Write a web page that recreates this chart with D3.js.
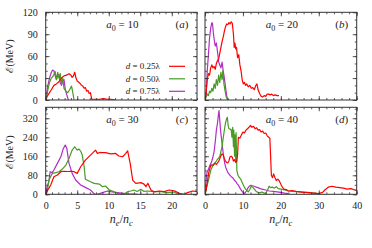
<!DOCTYPE html>
<html>
<head>
<meta charset="utf-8">
<script src="https://cdn.jsdelivr.net/npm/d3@7"></script>
<style>
  body { margin: 0; background: #fff; }
  text { font-family: "Liberation Serif", serif; fill: #222; }
</style>
</head>
<body>
<svg id="chart" width="372" height="248"></svg>
<script>
// Series: [n_e/n_c, energy in MeV]
var a10_d025 = [[0,0],[0.3,6],[0.6,10],[0.9,14],[1.3,20],[1.7,22],[2.1,25],[2.5,30],[2.9,33],[3.3,34],[3.7,36],[4.0,34],[4.2,31],[4.4,33],[4.6,38],[4.8,30],[5.0,26],[5.3,24],[5.6,21],[5.9,19],[6.1,16],[6.3,17],[6.5,12],[6.7,13],[6.9,9],[7.1,10],[7.3,1],[7.8,1],[8.5,1],[9.2,2],[9.8,1],[10.4,1],[11.0,0]];
var a10_d050 = [[0,0],[0.3,12],[0.6,24],[0.9,30],[1.2,33],[1.5,39],[1.7,28],[1.9,38],[2.1,30],[2.3,36],[2.5,22],[2.7,30],[2.9,16],[3.2,12],[3.5,10],[3.8,14],[4.1,19],[4.3,10],[4.5,0]];
var a10_d075 = [[0,0],[0.3,18],[0.6,30],[0.9,38],[1.1,41],[1.3,40],[1.5,33],[1.7,28],[1.9,33],[2.1,35],[2.3,24],[2.5,20],[2.7,26],[2.9,28],[3.1,15],[3.3,8],[3.6,0]];

var a20_d025 = [[0,0],[0.3,10],[0.6,28],[0.9,36],[1.2,34],[1.5,44],[1.8,48],[2.1,44],[2.4,46],[2.7,42],[3.0,50],[3.3,54],[3.6,56],[3.9,64],[4.2,72],[4.5,80],[4.8,86],[5.1,94],[5.4,100],[5.7,104],[6.0,103],[6.3,106],[6.6,104],[6.9,107],[7.2,105],[7.5,90],[7.7,72],[7.9,78],[8.1,70],[8.3,72],[8.6,58],[8.9,62],[9.2,48],[9.5,40],[9.8,28],[10.1,22],[10.4,24],[10.7,20],[11.0,22],[11.4,18],[11.8,20],[12.2,16],[12.6,17],[13.0,14],[13.4,20],[13.7,22],[14.0,14],[14.4,9],[14.8,5],[15.2,4],[15.6,6],[16.0,5],[16.4,8],[16.8,8],[17.2,7],[17.6,8],[18.0,6],[18.5,7],[19.0,6],[19.5,6]];
var a20_d050 = [[0,0],[0.3,4],[0.6,8],[0.9,6],[1.2,12],[1.5,10],[1.8,16],[2.1,12],[2.4,22],[2.7,16],[3.0,28],[3.3,20],[3.6,34],[3.9,24],[4.2,38],[4.5,28],[4.7,40],[5.0,22],[5.3,12],[5.6,4],[6.0,0]];
var a20_d075 = [[0,0],[0.3,8],[0.6,40],[0.9,62],[1.2,85],[1.5,98],[1.8,106],[2.0,104],[2.2,92],[2.5,80],[2.7,74],[3.0,78],[3.3,66],[3.6,52],[3.9,48],[4.2,44],[4.5,52],[4.8,40],[5.1,30],[5.4,18],[5.7,6],[6.0,0]];

var a30_d025 = [[0,0],[0.15,11],[0.5,25],[0.8,39],[1.3,74],[1.85,81],[2.4,95],[2.9,97],[3.5,96],[4.0,97],[4.5,95],[5.0,88],[5.55,116],[6.3,144],[7.1,165],[7.9,186],[8.2,172],[8.6,176],[9.0,175],[9.5,175],[10.3,170],[11.1,172],[11.6,161],[12.2,158],[12.7,172],[13.0,183],[13.4,130],[13.8,60],[14.3,46],[15.1,49],[15.6,43],[15.9,32],[16.2,46],[16.7,18],[17.2,10],[18.0,14],[18.8,11],[19.6,18],[20.4,15],[21.2,4],[22.0,0],[22.5,7],[23.3,14],[24,11]];
var a30_d050 = [[0,0],[0.26,11],[0.5,60],[1.05,88],[1.6,91],[2.1,95],[2.6,105],[3.2,123],[3.7,151],[4.2,186],[4.6,200],[5.0,186],[5.3,190],[5.6,179],[5.8,165],[6.1,116],[6.3,63],[7.1,53],[7.7,46],[8.5,43],[9.0,32],[9.5,35],[10.1,18],[10.8,11],[11.6,2],[12.4,0],[13.0,11],[13.5,14],[14.0,18],[14.5,12],[15.1,21],[15.6,12],[16.1,14],[17.2,11],[18.3,11],[19.3,7],[20.4,10],[20.9,2],[21.4,0]];
var a30_d075 = [[0,0],[0.15,25],[0.5,53],[0.7,95],[1.05,91],[1.3,102],[1.85,130],[2.4,158],[2.8,193],[3.1,207],[3.35,193],[3.7,130],[4.2,88],[4.75,60],[5.55,39],[6.3,29],[7.1,18],[7.7,2],[8.2,0],[9.0,7],[9.8,14],[10.3,11],[11.4,7],[13.0,2],[14.6,0]];

var a40_d025 = [[0,0],[0.3,20],[0.6,50],[0.9,85],[1.2,105],[1.5,120],[1.8,124],[2.1,122],[2.4,128],[2.7,130],[3.0,126],[3.3,132],[3.6,138],[3.9,150],[4.2,162],[4.5,170],[4.8,166],[5.1,150],[5.4,140],[5.7,134],[6.0,132],[6.3,140],[6.6,158],[6.9,160],[7.2,156],[7.5,140],[7.8,146],[8.1,134],[8.4,140],[8.6,170],[8.8,240],[9.2,236],[9.6,250],[10.0,262],[10.4,258],[10.8,270],[11.2,276],[11.6,282],[12.0,290],[12.4,282],[12.8,286],[13.2,276],[13.6,280],[14.0,270],[14.4,272],[14.8,262],[15.2,266],[15.6,256],[16.0,258],[16.4,246],[16.8,240],[17.1,236],[17.3,160],[17.5,80],[17.8,70],[18.1,86],[18.4,72],[18.8,58],[19.2,64],[19.6,56],[20.0,42],[20.4,30],[20.8,22],[21.4,20],[22,14],[23,16],[24,12],[25,10],[26,8],[27,8],[28,6],[29,5],[30,3],[31,8],[31.6,18],[32.5,30],[33.5,34],[34.5,30],[35.5,28],[36.5,26],[37.5,22],[38.5,24],[39.5,18],[40,16]];
var a40_d050 = [[0,0],[0.3,20],[0.6,40],[0.9,58],[1.2,80],[1.5,100],[1.8,112],[2.1,120],[2.4,128],[2.7,134],[3.0,140],[3.3,148],[3.6,152],[3.9,160],[4.2,180],[4.5,200],[4.8,236],[5.1,270],[5.4,300],[5.7,318],[5.9,324],[6.1,290],[6.3,276],[6.6,274],[6.9,272],[7.1,240],[7.3,282],[7.5,200],[7.6,270],[7.8,160],[7.9,250],[8.1,140],[8.2,260],[8.4,100],[8.7,80],[9.0,72],[9.4,64],[9.8,50],[10.2,36],[10.6,24],[11.0,16],[11.4,10],[11.8,20],[12.2,34],[12.6,30],[13.0,22],[13.5,12],[14.0,8],[14.5,6],[15.0,10],[15.5,6],[16.0,4],[16.5,18],[16.9,34],[17.3,28],[17.8,30],[18.3,26],[18.8,32],[19.3,24],[20,22],[21,18],[22,14],[23,12],[24,11],[25,10],[26,9],[27,7],[28,6],[29,5],[30,0]];
var a40_d075 = [[0,0],[0.2,40],[0.4,80],[0.6,95],[0.9,105],[1.2,118],[1.5,128],[1.8,140],[2.1,158],[2.4,180],[2.7,220],[3.0,270],[3.3,300],[3.5,330],[3.7,352],[3.9,310],[4.1,270],[4.3,240],[4.6,200],[4.9,160],[5.2,130],[5.5,112],[5.8,100],[6.1,90],[6.5,82],[6.9,74],[7.3,70],[7.7,60],[8.1,54],[8.5,44],[8.9,36],[9.3,24],[9.7,14],[10.1,6],[10.5,4],[10.9,14],[11.3,26],[11.7,34],[12.1,38],[12.5,36],[13.0,34],[13.5,30],[14.0,28],[14.5,24],[15.0,22],[16,18],[17,14],[18,12],[19,10],[20,8],[21,5],[22,3]];

var legendLabels = ["0.25", "0.50", "0.75"];
var colors = ["#ff0000", "#4a9a26", "#b32cc4"];
var xTicksLeft = [0, 5, 10, 15, 20];
var xTicksRight = [0, 10, 20, 30, 40];
var yTicksTop = [0, 30, 60, 90, 120];
var yTicksBottom = [0, 80, 160, 240, 320];

var svg = d3.select("#chart");

var panels = [
    { tag: "a", a0: "10", left: 45.7, right: 197, top: 12.3, bottom: 100, xMax: 24, yMax: 120,
      xTicks: xTicksLeft, xMinor: 1, yTicks: yTicksTop, yMinor: 10, xLab: false, yLab: true,
      series: [a10_d025, a10_d050, a10_d075] },
    { tag: "b", a0: "20", left: 205, right: 356.7, top: 12.3, bottom: 100, xMax: 40, yMax: 120,
      xTicks: xTicksRight, xMinor: 2, yTicks: yTicksTop, yMinor: 10, xLab: false, yLab: false,
      series: [a20_d025, a20_d050, a20_d075] },
    { tag: "c", a0: "30", left: 45.7, right: 197, top: 107.3, bottom: 194.3, xMax: 24, yMax: 366,
      xTicks: xTicksLeft, xMinor: 1, yTicks: yTicksBottom, yMinor: 20, xLab: true, yLab: true,
      series: [a30_d025, a30_d050, a30_d075] },
    { tag: "d", a0: "40", left: 205, right: 356.7, top: 107.3, bottom: 194.3, xMax: 40, yMax: 366,
      xTicks: xTicksRight, xMinor: 2, yTicks: yTicksBottom, yMinor: 20, xLab: true, yLab: false,
      series: [a40_d025, a40_d050, a40_d075] }
];

panels.forEach(function (p, i) {
    var w = p.right - p.left, h = p.bottom - p.top;
    var x = d3.scaleLinear().domain([0, p.xMax]).range([0, w]);
    var y = d3.scaleLinear().domain([0, p.yMax]).range([h, 0]);
    var g = svg.append("g").attr("transform", "translate(" + p.left + "," + p.top + ")");

    g.append("clipPath").attr("id", "clip" + i)
        .append("rect").attr("width", w).attr("height", h);

    var line = d3.line()
        .x(function (d) { return x(d[0]); })
        .y(function (d) { return y(d[1]); });

    // curves, drawn back to front: magenta, green, red
    [2, 1, 0].forEach(function (k) {
        g.append("path")
            .datum(p.series[k])
            .attr("clip-path", "url(#clip" + i + ")")
            .attr("fill", "none")
            .attr("stroke", colors[k])
            .attr("stroke-width", 1.2)
            .attr("stroke-linejoin", "round")
            .attr("d", line);
    });

    var xMinorVals = d3.range(0, p.xMax + 0.001, p.xMinor);
    var yMinorVals = d3.range(0, p.yMax, p.yMinor);

    // inward ticks on all four sides
    function styleAxis(sel) {
        sel.select(".domain").remove();
        sel.selectAll(".tick line").attr("stroke", "#333").attr("stroke-width", 0.8);
        sel.selectAll("text").style("font-family", "Liberation Serif, serif")
            .style("font-size", "10px").attr("fill", "#222");
    }
    g.append("g").attr("transform", "translate(0," + h + ")")
        .call(d3.axisBottom(x).tickValues(xMinorVals).tickSize(-2).tickFormat(""))
        .call(styleAxis);
    g.append("g").attr("transform", "translate(0," + h + ")")
        .call(d3.axisBottom(x).tickValues(p.xTicks).tickSizeInner(-4).tickSizeOuter(0).tickPadding(8)
            .tickFormat(p.xLab ? d3.format("d") : ""))
        .call(styleAxis);
    g.append("g")
        .call(d3.axisTop(x).tickValues(xMinorVals).tickSize(-2).tickFormat(""))
        .call(styleAxis);
    g.append("g")
        .call(d3.axisTop(x).tickValues(p.xTicks).tickSize(-4).tickFormat(""))
        .call(styleAxis);
    g.append("g")
        .call(d3.axisLeft(y).tickValues(yMinorVals).tickSize(-2).tickFormat(""))
        .call(styleAxis);
    g.append("g")
        .call(d3.axisLeft(y).tickValues(p.yTicks).tickSizeInner(-4).tickSizeOuter(0).tickPadding(8)
            .tickFormat(p.yLab ? d3.format("d") : ""))
        .call(styleAxis);
    g.append("g").attr("transform", "translate(" + w + ",0)")
        .call(d3.axisRight(y).tickValues(yMinorVals).tickSize(-2).tickFormat(""))
        .call(styleAxis);
    g.append("g").attr("transform", "translate(" + w + ",0)")
        .call(d3.axisRight(y).tickValues(p.yTicks).tickSize(-4).tickFormat(""))
        .call(styleAxis);

    g.append("rect")
        .attr("width", w).attr("height", h)
        .attr("fill", "none").attr("stroke", "#333").attr("stroke-width", 1);

    // a0 label
    var t = g.append("text")
        .attr("x", w * 0.5 + 1).attr("y", 16)
        .attr("text-anchor", "middle")
        .style("font-size", "11px");
    t.append("tspan").style("font-style", "italic").text("a");
    t.append("tspan").attr("dy", 2.5).style("font-size", "8px").text("0");
    t.append("tspan").attr("dy", -2.5).text(" = " + p.a0);

    var tg = g.append("text")
        .attr("x", w - 15).attr("y", 16)
        .attr("text-anchor", "middle")
        .style("font-size", "11px");
    tg.append("tspan").text("(");
    tg.append("tspan").style("font-style", "italic").text(p.tag);
    tg.append("tspan").text(")");

    // legend in panel (a)
    if (p.tag === "a") {
        legendLabels.forEach(function (lab, k) {
            var ly = 54 + k * 12.5;
            var lt = g.append("text")
                .attr("x", w - 37).attr("y", ly + 3)
                .attr("text-anchor", "end")
                .style("font-size", "9px");
            lt.append("tspan").style("font-style", "italic").text("d");
            lt.append("tspan").text(" = " + lab + "λ");
            g.append("line")
                .attr("x1", w - 28).attr("x2", w - 12)
                .attr("y1", ly).attr("y2", ly)
                .attr("stroke", colors[k]).attr("stroke-width", 1.2);
        });
    }
});

// axis titles
[56, 152].forEach(function (cy) {
    svg.append("text")
        .attr("transform", "translate(13," + cy + ") rotate(-90)")
        .attr("text-anchor", "middle")
        .style("font-size", "10px")
        .html("<tspan style='font-family:DejaVu Serif'>ℰ</tspan>(MeV)");
});
[121.3, 280.8].forEach(function (cx) {
    var t = svg.append("text")
        .attr("x", cx).attr("y", 223)
        .attr("text-anchor", "middle")
        .style("font-size", "12px");
    t.append("tspan").style("font-style", "italic").text("n");
    t.append("tspan").attr("dy", 2.5).style("font-style", "italic").style("font-size", "8.5px").text("e");
    t.append("tspan").attr("dy", -2.5).text("/");
    t.append("tspan").style("font-style", "italic").text("n");
    t.append("tspan").attr("dy", 2.5).style("font-style", "italic").style("font-size", "8.5px").text("c");
});
</script>
</body>
</html>
